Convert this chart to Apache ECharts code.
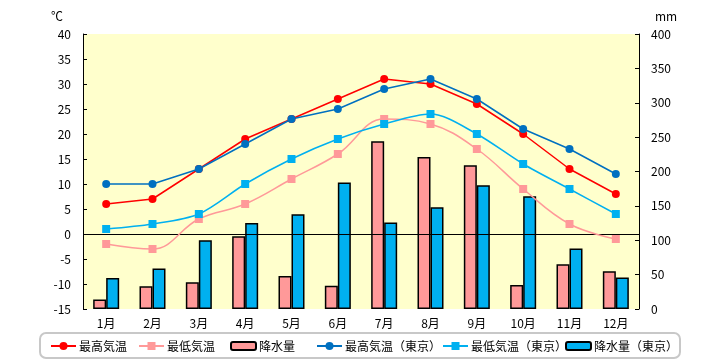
<!DOCTYPE html>
<html>
<head>
<meta charset="utf-8">
<script src="https://cdn.jsdelivr.net/npm/echarts@6/dist/echarts.min.js"></script>
<style>html,body{margin:0;padding:0;background:#fff;}#c{width:720px;height:360px;}</style>
</head>
<body>
<div id="c"></div>
<script>
const months = ['1月','2月','3月','4月','5月','6月','7月','8月','9月','10月','11月','12月'];
const maxTemp = [6, 7, 13, 19, 23, 27, 31, 30, 26, 20, 13, 8];
const minTemp = [-2, -3, 3, 6, 11, 16, 23, 22, 17, 9, 2, -1];
const precip = [14, 33, 39, 106, 48, 34, 244, 221, 209, 35, 65, 55];
const maxTempTokyo = [10, 10, 13, 18, 23, 25, 29, 31, 27, 21, 17, 12];
const minTempTokyo = [1, 2, 4, 10, 15, 19, 22, 24, 20, 14, 9, 4];
const precipTokyo = [45, 59, 100, 125, 138, 184, 126, 148, 180, 164, 88, 46];
const tempTicks = {min: -15, max: 40, interval: 5};
const precipTicks = {min: 0, max: 400, interval: 50};

const FONT = '"Noto Sans CJK JP", "Noto Sans", sans-serif';
const chart = echarts.init(document.getElementById('c'), null, {renderer: 'canvas'});

function lg(name, left, h) {
  return {
    data: [name], left: left, top: 340, padding: 0,
    itemWidth: 25, itemHeight: h || 10, itemGap: 0,
    textStyle: {fontFamily: FONT, fontSize: 12, color: '#000', padding: [0, 0, 0, -2]},
    selectedMode: false
  };
}

chart.setOption({
  animation: false,
  textStyle: {fontFamily: FONT},
  grid: {left: 83, right: 81, top: 34, bottom: 51, show: true, backgroundColor: '#FFFFCC', borderWidth: 0},
  graphic: [
    {type: 'text', left: 51, top: 10, style: {text: '℃', fontFamily: FONT, fontSize: 12, fill: '#000'}},
    {type: 'text', left: 655, top: 10, style: {text: 'mm', fontFamily: FONT, fontSize: 12, fill: '#000'}},
    {type: 'rect', z: -10, shape: {x: 40, y: 333, width: 640, height: 25, r: 6},
     style: {fill: '#fff', stroke: '#c8c8c8', lineWidth: 2}}
  ],
  legend: [
    lg('最高気温', 50), lg('最低気温', 138), lg('降水量', 230, 8),
    lg('最高気温（東京）', 316), lg('最低気温（東京）', 442), lg('降水量（東京）', 565, 8)
  ],
  xAxis: {
    type: 'category', data: months,
    axisLine: {show: false}, axisTick: {show: false},
    axisLabel: {color: '#000', fontSize: 12, fontFamily: FONT, margin: 8}
  },
  yAxis: [
    {type: 'value', min: tempTicks.min, max: tempTicks.max, interval: tempTicks.interval,
     axisLine: {show: true, lineStyle: {color: '#000', width: 1}},
     axisTick: {show: true, inside: true, length: 4, lineStyle: {color: '#000'}},
     splitLine: {show: false},
     axisLabel: {color: '#000', fontSize: 12, fontFamily: FONT, margin: 12}},
    {type: 'value', min: precipTicks.min, max: precipTicks.max, interval: precipTicks.interval,
     axisLine: {show: true, lineStyle: {color: '#000', width: 1}},
     axisTick: {show: true, inside: true, length: 4, lineStyle: {color: '#000'}},
     splitLine: {show: false},
     axisLabel: {color: '#000', fontSize: 12, fontFamily: FONT, margin: 12}}
  ],
  series: [
    {name: '降水量', type: 'bar', yAxisIndex: 1, data: precip, barWidth: 13, barGap: '0%',
     itemStyle: {color: '#FF9999', borderColor: '#000', borderWidth: 1.5}, z: 2},
    {name: '降水量（東京）', type: 'bar', yAxisIndex: 1, data: precipTokyo, barWidth: 13, barGap: '0%',
     itemStyle: {color: '#00B0F0', borderColor: '#000', borderWidth: 1.5}, z: 2},
    {name: '最低気温', type: 'line', yAxisIndex: 0, data: minTemp, smooth: 0.4,
     symbol: 'rect', symbolSize: 8, lineStyle: {color: '#FF9999', width: 1.5},
     itemStyle: {color: '#FF9999'}, z: 5},
    {name: '最低気温（東京）', type: 'line', yAxisIndex: 0, data: minTempTokyo, smooth: 0.3,
     symbol: 'rect', symbolSize: 8, lineStyle: {color: '#00B0F0', width: 1.5},
     itemStyle: {color: '#00B0F0'}, z: 5},
    {name: '最高気温', type: 'line', yAxisIndex: 0, data: maxTemp,
     symbol: 'circle', symbolSize: 8, lineStyle: {color: '#FF0000', width: 1.5},
     itemStyle: {color: '#FF0000'}, z: 6,
     markLine: {silent: true, symbol: 'none', label: {show: false},
       lineStyle: {color: '#000', width: 1, type: 'solid'}, data: [{yAxis: 0}]}},
    {name: '最高気温（東京）', type: 'line', yAxisIndex: 0, data: maxTempTokyo,
     symbol: 'circle', symbolSize: 8, lineStyle: {color: '#0070C0', width: 1.5},
     itemStyle: {color: '#0070C0'}, z: 6}
  ]
});
</script>
</body>
</html>
